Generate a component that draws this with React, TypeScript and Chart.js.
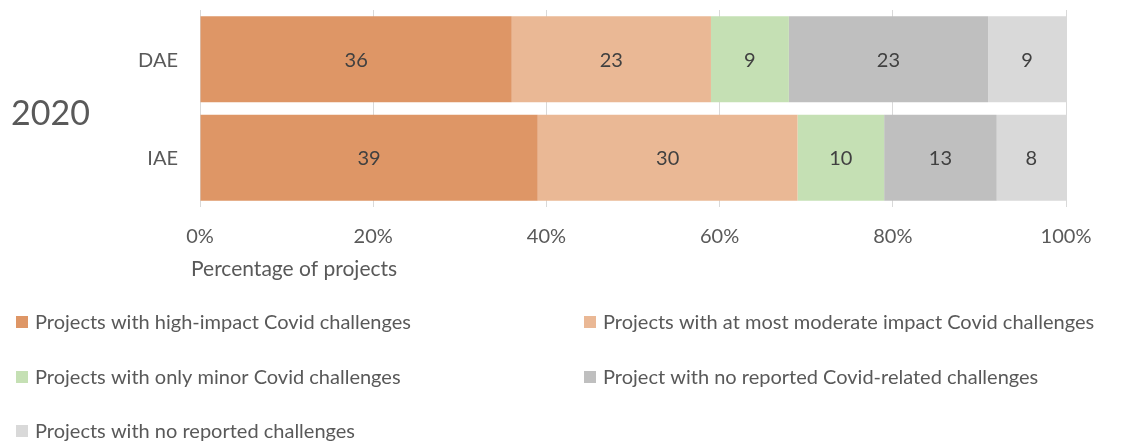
import { useEffect, useRef } from 'react';
import { Chart, registerables } from 'chart.js';

Chart.register(...registerables);

const categories = ['DAE', 'IAE'];
const groupLabel = '2020';
const axisTitle = 'Percentage of projects';

const seriesNames = [
  'Projects with high-impact Covid challenges',
  'Projects with at most moderate impact Covid challenges',
  'Projects with only minor Covid challenges',
  'Project with no reported Covid-related challenges',
  'Projects with no reported challenges',
];
const highImpact = [36, 39];
const moderateImpact = [23, 30];
const minorImpact = [9, 10];
const noCovidChallenges = [23, 13];
const noChallenges = [9, 8];
const seriesValues = [highImpact, moderateImpact, minorImpact, noCovidChallenges, noChallenges];
const seriesColors = ['#DE9666', '#EAB895', '#C5E0B4', '#BFBFBF', '#D9D9D9'];

const FONT = 'Lato';
const TEXT = '#595959';

export default function App() {
  const ref = useRef<HTMLCanvasElement>(null);

  useEffect(() => {
    document.body.style.margin = '0';
    const canvas = ref.current!;

    const labelsPlugin = {
      id: 'customText',
      afterDatasetsDraw(chart: any) {
        const ctx = chart.ctx;
        ctx.save();
        ctx.fillStyle = '#404040';
        ctx.font = `20px ${FONT}`;
        ctx.textAlign = 'center';
        ctx.textBaseline = 'middle';
        chart.data.datasets.forEach((ds: any, i: number) => {
          const meta = chart.getDatasetMeta(i);
          meta.data.forEach((el: any, j: number) => {
            const v = ds.data[j];
            ctx.fillText(String(v), (el.x + el.base) / 2, el.y + 1);
          });
        });
        ctx.restore();
      },
      afterDraw(chart: any) {
        const ctx = chart.ctx;
        const yScale = chart.scales.y;
        ctx.save();
        ctx.fillStyle = TEXT;
        // category labels
        ctx.font = `20px ${FONT}`;
        ctx.textAlign = 'right';
        ctx.textBaseline = 'middle';
        categories.forEach((c, i) => {
          ctx.fillText(c, chart.chartArea.left - 22, yScale.getPixelForValue(i) + 1);
        });
        // group label
        ctx.font = `34px ${FONT}`;
        ctx.textAlign = 'left';
        ctx.fillText(groupLabel, 11, 114);
        // axis title
        ctx.font = `21px ${FONT}`;
        ctx.fillText(axisTitle, chart.chartArea.left - 9, 269);
        // legend
        ctx.font = `20px ${FONT}`;
        const colX = [16, 584];
        const rowY = [322, 377, 431];
        seriesNames.forEach((name, i) => {
          const col = i % 2;
          const row = Math.floor(i / 2);
          const x = colX[col];
          const y = rowY[row];
          ctx.fillStyle = seriesColors[i];
          ctx.fillRect(x, y - 6, 12, 12);
          ctx.fillStyle = TEXT;
          ctx.fillText(name, x + 19, y + 1);
        });
        ctx.restore();
      },
    };

    const chart = new Chart(canvas, {
      type: 'bar',
      data: {
        labels: categories,
        datasets: seriesNames.map((name, i) => ({
          label: name,
          data: seriesValues[i],
          backgroundColor: seriesColors[i],
          borderWidth: 0,
          barPercentage: 0.873,
          categoryPercentage: 1,
        })),
      },
      options: {
        indexAxis: 'y',
        responsive: false,
        animation: false,
        layout: { padding: { top: 10, right: 70, left: 0, bottom: 0 } },
        plugins: {
          legend: { display: false },
          tooltip: { enabled: false },
          title: { display: false },
        },
        scales: {
          x: {
            stacked: true,
            min: 0,
            max: 100,
            border: { display: false },
            grid: { color: '#D9D9D9', lineWidth: 1, drawTicks: false },
            ticks: {
              stepSize: 20,
              padding: 18,
              color: TEXT,
              font: { family: FONT, size: 20 },
              callback: (v: any) => `${v}%`,
            },
            afterFit: (scale: any) => {
              scale.height = 443 - 207;
            },
          },
          y: {
            stacked: true,
            border: { display: false },
            grid: { display: false, drawTicks: false },
            ticks: { display: false },
            afterFit: (scale: any) => {
              scale.width = 200;
            },
          },
        },
      },
      plugins: [labelsPlugin],
    });

    return () => chart.destroy();
  }, []);

  return (
    <div style={{ width: 1136, height: 443 }}>
      <canvas ref={ref} width={1136} height={443} />
    </div>
  );
}
